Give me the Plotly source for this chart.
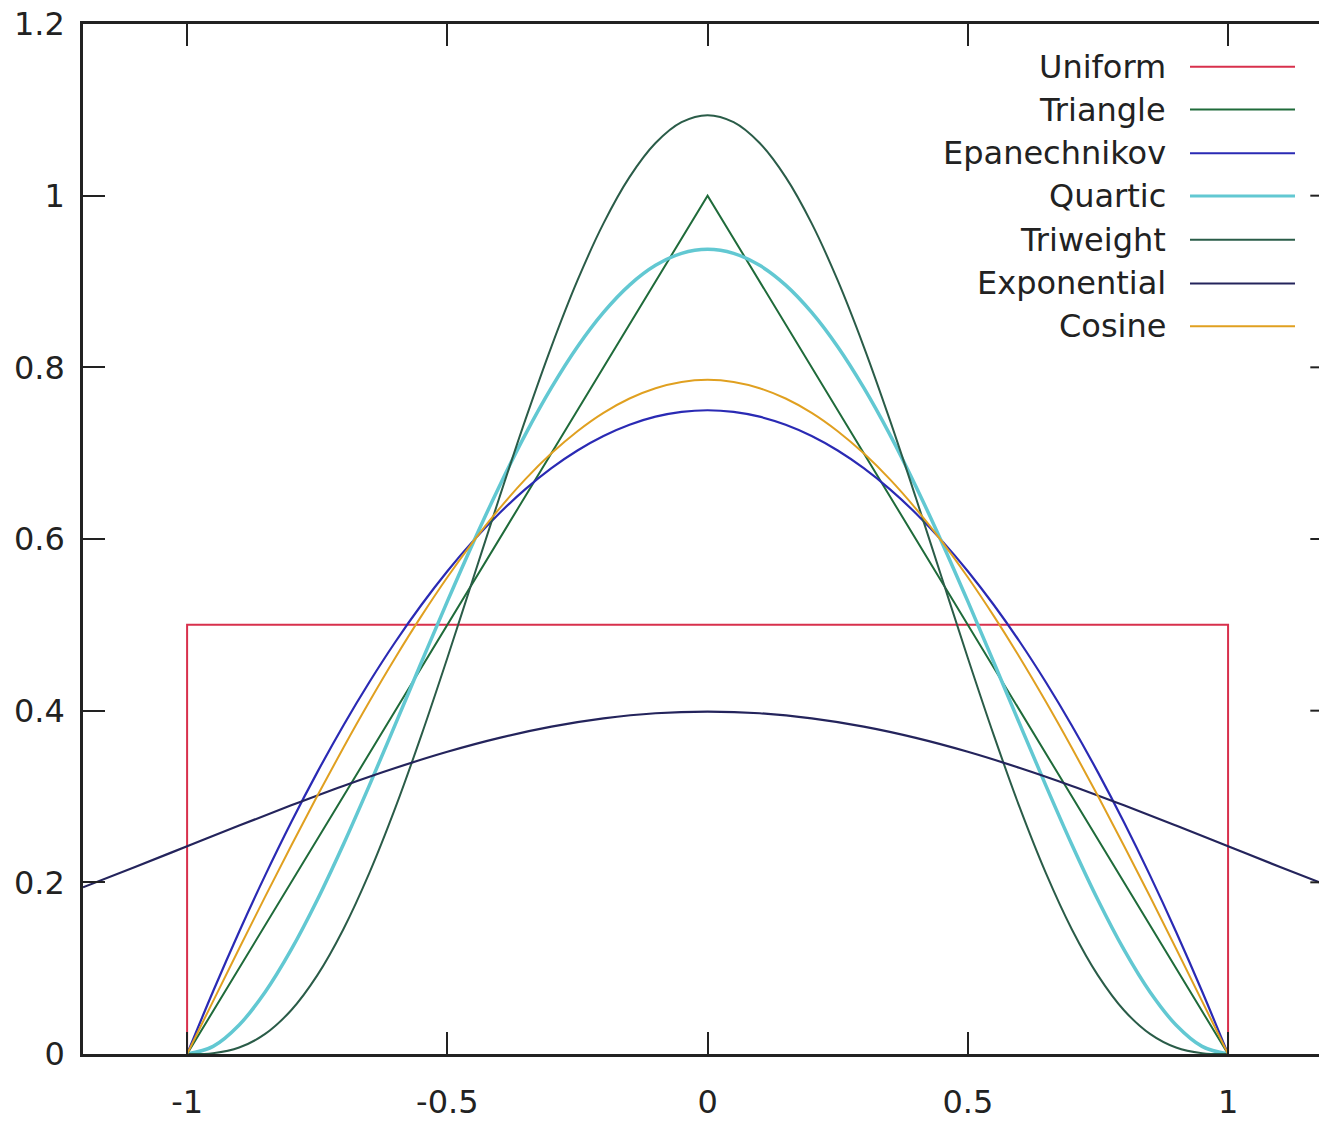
import plotly.graph_objects as go

# ---- data ----
x_k = [-1.0, -0.95, -0.9, -0.85, -0.8, -0.75, -0.7, -0.65, -0.6, -0.55, -0.5,
       -0.45, -0.4, -0.35, -0.3, -0.25, -0.2, -0.15, -0.1, -0.05, 0.0,
       0.05, 0.1, 0.15, 0.2, 0.25, 0.3, 0.35, 0.4, 0.45, 0.5,
       0.55, 0.6, 0.65, 0.7, 0.75, 0.8, 0.85, 0.9, 0.95, 1.0]

uniform_x = [-1.0, -1.0, 1.0, 1.0]
uniform_y = [0.0, 0.5, 0.5, 0.0]

triangle_x = [-1.0, 0.0, 1.0]
triangle_y = [0.0, 1.0, 0.0]

epan_y = [0.0, 0.0731, 0.1425, 0.2081, 0.27, 0.3281, 0.3825, 0.4331, 0.48, 0.5231, 0.5625,
          0.5981, 0.63, 0.6581, 0.6825, 0.7031, 0.72, 0.7331, 0.7425, 0.7481, 0.75,
          0.7481, 0.7425, 0.7331, 0.72, 0.7031, 0.6825, 0.6581, 0.63, 0.5981, 0.5625,
          0.5231, 0.48, 0.4331, 0.3825, 0.3281, 0.27, 0.2081, 0.1425, 0.0731, 0.0]

quartic_y = [0.0, 0.0089, 0.0338, 0.0722, 0.1215, 0.1794, 0.2438, 0.3127, 0.384, 0.4561, 0.5273,
             0.5963, 0.6615, 0.7219, 0.7763, 0.824, 0.864, 0.8958, 0.9188, 0.9328, 0.9375,
             0.9328, 0.9188, 0.8958, 0.864, 0.824, 0.7763, 0.7219, 0.6615, 0.5963, 0.5273,
             0.4561, 0.384, 0.3127, 0.2438, 0.1794, 0.1215, 0.0722, 0.0338, 0.0089, 0.0]

triweight_y = [0.0, 0.001, 0.0075, 0.0234, 0.051, 0.0916, 0.1451, 0.2107, 0.2867, 0.3712, 0.4614,
               0.5548, 0.6483, 0.739, 0.8242, 0.9012, 0.9677, 1.0216, 1.0613, 1.0856, 1.0938,
               1.0856, 1.0613, 1.0216, 0.9677, 0.9012, 0.8242, 0.739, 0.6483, 0.5548, 0.4614,
               0.3712, 0.2867, 0.2107, 0.1451, 0.0916, 0.051, 0.0234, 0.0075, 0.001, 0.0]

exp_x = [-1.2, -1.1, -1.0, -0.9, -0.8, -0.7, -0.6, -0.5, -0.4, -0.3, -0.2, -0.1, 0.0,
         0.1, 0.2, 0.3, 0.4, 0.5, 0.6, 0.7, 0.8, 0.9, 1.0, 1.1, 1.2]
exp_y = [0.1942, 0.2179, 0.242, 0.2661, 0.2897, 0.3123, 0.3332, 0.3521, 0.3683, 0.3814, 0.391, 0.397, 0.3989,
         0.397, 0.391, 0.3814, 0.3683, 0.3521, 0.3332, 0.3123, 0.2897, 0.2661, 0.242, 0.2179, 0.1942]

cosine_y = [0.0, 0.0616, 0.1229, 0.1834, 0.2427, 0.3006, 0.3566, 0.4104, 0.4617, 0.5101, 0.5554,
            0.5972, 0.6354, 0.6697, 0.6998, 0.7256, 0.747, 0.7637, 0.7757, 0.783, 0.7854,
            0.783, 0.7757, 0.7637, 0.747, 0.7256, 0.6998, 0.6697, 0.6354, 0.5972, 0.5554,
            0.5101, 0.4617, 0.4104, 0.3566, 0.3006, 0.2427, 0.1834, 0.1229, 0.0616, 0.0]

x_ticks = [-1, -0.5, 0, 0.5, 1]
x_tick_labels = ["-1", "-0.5", "0", "0.5", "1"]
y_ticks = [0, 0.2, 0.4, 0.6, 0.8, 1.0, 1.2]
y_tick_labels = ["0", "0.2", "0.4", "0.6", "0.8", "1", "1.2"]

names = ["Uniform", "Triangle", "Epanechnikov", "Quartic", "Triweight", "Exponential", "Cosine"]
colors = ["#d8304c", "#1f6b3a", "#2a2ab4", "#62c8d2", "#2a5c48", "#24245c", "#e0a020"]
widths = [2, 2, 2.2, 3.5, 2, 2.2, 2]

series = [
    (uniform_x, uniform_y, "linear"),
    (triangle_x, triangle_y, "linear"),
    (x_k, epan_y, "spline"),
    (x_k, quartic_y, "spline"),
    (x_k, triweight_y, "spline"),
    (exp_x, exp_y, "spline"),
    (x_k, cosine_y, "spline"),
]

FONT = "DejaVu Sans"
fig = go.Figure()
for (xs, ys, shp), nm, c, w in zip(series, names, colors, widths):
    fig.add_trace(go.Scatter(x=xs, y=ys, mode="lines", name=nm,
                             line=dict(color=c, width=w, shape=shp),
                             showlegend=False))

# gnuplot-style key: text on the left, sample line on the right
W, H = 1319, 1121
ml, mr, mt, mb = 83, 0, 24, 61
pw, ph = W - ml - mr, H - mt - mb
row_px = [67, 110, 154, 197, 241, 285, 328]
shapes = []
annotations = []
for nm, c, w, py in zip(names, colors, widths, row_px):
    yp = (H - mb - py) / ph
    annotations.append(dict(xref="paper", yref="paper", x=(1168 - ml) / pw, y=yp,
                            xanchor="right", yanchor="middle", text=nm, showarrow=False,
                            font=dict(family=FONT, size=32, color="#222222")))
    shapes.append(dict(type="line", xref="paper", yref="paper",
                       x0=(1190 - ml) / pw, x1=(1295 - ml) / pw, y0=yp, y1=yp,
                       line=dict(color=c, width=min(w, 3))))

# right-side mirrored ticks (border lies just beyond the visible edge)
for yt in y_ticks[1:-1]:
    shapes.append(dict(type="line", xref="x", yref="y", x0=1.158, x1=1.2, y0=yt, y1=yt,
                       line=dict(color="#222222", width=2)))

fig.update_layout(
    width=W, height=H,
    margin=dict(l=ml, r=mr, t=mt, b=mb),
    paper_bgcolor="white", plot_bgcolor="white",
    font=dict(family=FONT, size=32, color="#222222"),
    shapes=shapes, annotations=annotations,
    xaxis=dict(range=[-1.2, 1.1747], tickvals=x_ticks, ticktext=x_tick_labels,
               showgrid=False, zeroline=False, showline=True, linecolor="#222222", linewidth=2.5,
               mirror="allticks", ticks="inside", ticklen=22, tickwidth=2, tickcolor="#222222",
               ticklabelstandoff=18),
    yaxis=dict(range=[0, 1.2], tickvals=y_ticks, ticktext=y_tick_labels,
               showgrid=False, zeroline=False, showline=True, linecolor="#222222", linewidth=2.5,
               mirror=False, ticks="inside", ticklen=22, tickwidth=2, tickcolor="#222222",
               ticklabelstandoff=9),
)

fig.write_html("out.html")
